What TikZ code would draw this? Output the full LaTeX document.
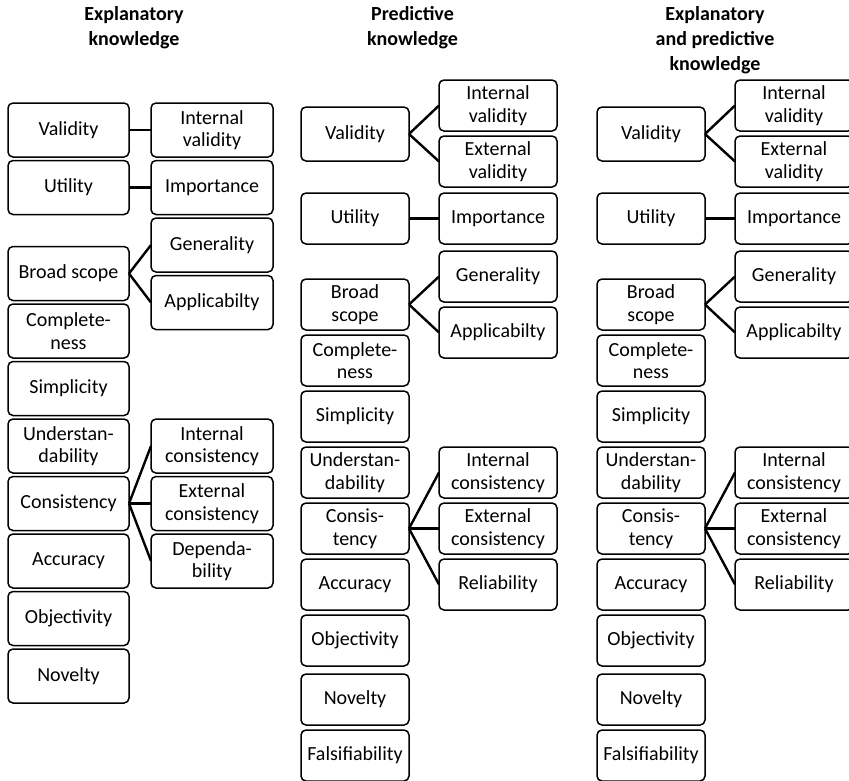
\documentclass[tikz,border=0pt]{standalone}
\usepackage{fontspec}
\setmainfont{Carlito}
\usetikzlibrary{positioning}

\begin{document}
\begin{tikzpicture}[x=1pt,y=-1pt,
   every node/.style={font=\fontsize{20}{22.5}\selectfont},
   box/.style={draw,line width=1.5pt,rounded corners=5pt,align=center,
               inner xsep=2pt,inner ysep=1pt,outer sep=0pt},
   mainA/.style={box,minimum width=121pt,minimum height=54pt},
   subA/.style={box,minimum width=122pt,minimum height=54pt},
   mainB/.style={box,minimum width=108pt,minimum height=51pt},
   subB/.style={box,minimum width=118pt,minimum height=51pt},
   head/.style={align=center,font=\fontsize{20}{25}\selectfont\bfseries},
   link/.style={line width=2.4pt}]
  \useasboundingbox (0,0) rectangle (849,780);

  % explanatory knowledge
  \node[head] (h1) at (134,27.5) {Explanatory\\knowledge};
  \node[mainA] (val1) at (68.5,130) {Validity};
  \node[mainA,below=3.5pt of val1] (util1) {Utility};
  \node[mainA,below=32pt of util1] (bs1) {Broad scope};
  \node[mainA,below=3.5pt of bs1] (comp1) {Complete-\\ness};
  \node[mainA,below=3.5pt of comp1] (simp1) {Simplicity};
  \node[mainA,below=3.5pt of simp1] (und1) {Understan-\\dability};
  \node[mainA,below=3.5pt of und1] (cons1) {Consistency};
  \node[mainA,below=3.5pt of cons1] (acc1) {Accuracy};
  \node[mainA,below=3.5pt of acc1] (obj1) {Objectivity};
  \node[mainA,below=3.5pt of obj1] (nov1) {Novelty};
  \node[subA,right=22pt of val1] (ival1) {Internal\\validity};
  \node[subA,right=22pt of util1] (imp1) {Importance};
  \node[subA,below=3.5pt of imp1] (gen1) {Generality};
  \node[subA,below=3.5pt of gen1] (app1) {Applicabilty};
  \node[subA,right=22pt of und1] (icons1) {Internal\\consistency};
  \node[subA,right=22pt of cons1] (econs1) {External\\consistency};
  \node[subA,right=22pt of acc1] (dep1) {Dependa-\\bility};
  \draw[link] (val1.east) -- (ival1.west);
  \draw[link] (util1.east) -- (imp1.west);
  \draw[link] (bs1.east) -- (gen1.west);
  \draw[link] (bs1.east) -- (app1.west);
  \draw[link] (cons1.east) -- (icons1.west);
  \draw[link] (cons1.east) -- (econs1.west);
  \draw[link] (cons1.east) -- (dep1.west);

  % predictive knowledge
  \node[head] (h2) at (412.5,27.5) {Predictive\\knowledge};
  \node[mainB,minimum height=54pt] (val2) at (355,134) {Validity};
  \node[mainB,below=32pt of val2] (util2) {Utility};
  \node[mainB,below=35pt of util2] (bs2) {Broad\\scope};
  \node[mainB,below=5pt of bs2] (comp2) {Complete-\\ness};
  \node[mainB,below=5pt of comp2] (simp2) {Simplicity};
  \node[mainB,below=5pt of simp2] (und2) {Understan-\\dability};
  \node[mainB,below=5pt of und2] (cons2) {Consis-\\tency};
  \node[mainB,below=5pt of cons2] (acc2) {Accuracy};
  \node[mainB,below=5pt of acc2] (obj2) {Objectivity};
  \node[mainB,below=8pt of obj2] (nov2) {Novelty};
  \node[mainB,below=5pt of nov2] (fals2) {Falsifiability};
  \node[subB,right=30pt of val2,yshift=28.5pt] (ival2) {Internal\\validity};
  \node[subB,below=5pt of ival2] (eval2) {External\\validity};
  \node[subB,right=30pt of util2] (imp2) {Importance};
  \node[subB,right=30pt of bs2,yshift=28pt] (gen2) {Generality};
  \node[subB,below=5pt of gen2] (app2) {Applicabilty};
  \node[subB,right=30pt of cons2] (econs2) {External\\consistency};
  \node[subB,above=5pt of econs2] (icons2) {Internal\\consistency};
  \node[subB,below=5pt of econs2] (rel2) {Reliability};
  \draw[link] (val2.east) -- (ival2.west);
  \draw[link] (val2.east) -- (eval2.west);
  \draw[link] (util2.east) -- (imp2.west);
  \draw[link] (bs2.east) -- (gen2.west);
  \draw[link] (bs2.east) -- (app2.west);
  \draw[link] (cons2.east) -- (icons2.west);
  \draw[link] (cons2.east) -- (econs2.west);
  \draw[link] (cons2.east) -- (rel2.west);

  % explanatory and predictive knowledge
  \node[head] (h3) at (715,40) {Explanatory\\and predictive\\knowledge};
  \node[mainB,minimum height=54pt] (val3) at (651,134) {Validity};
  \node[mainB,below=32pt of val3] (util3) {Utility};
  \node[mainB,below=35pt of util3] (bs3) {Broad\\scope};
  \node[mainB,below=5pt of bs3] (comp3) {Complete-\\ness};
  \node[mainB,below=5pt of comp3] (simp3) {Simplicity};
  \node[mainB,below=5pt of simp3] (und3) {Understan-\\dability};
  \node[mainB,below=5pt of und3] (cons3) {Consis-\\tency};
  \node[mainB,below=5pt of cons3] (acc3) {Accuracy};
  \node[mainB,below=5pt of acc3] (obj3) {Objectivity};
  \node[mainB,below=8pt of obj3] (nov3) {Novelty};
  \node[mainB,below=5pt of nov3] (fals3) {Falsifiability};
  \node[subB,right=30pt of val3,yshift=28.5pt] (ival3) {Internal\\validity};
  \node[subB,below=5pt of ival3] (eval3) {External\\validity};
  \node[subB,right=30pt of util3] (imp3) {Importance};
  \node[subB,right=30pt of bs3,yshift=28pt] (gen3) {Generality};
  \node[subB,below=5pt of gen3] (app3) {Applicabilty};
  \node[subB,right=30pt of cons3] (econs3) {External\\consistency};
  \node[subB,above=5pt of econs3] (icons3) {Internal\\consistency};
  \node[subB,below=5pt of econs3] (rel3) {Reliability};
  \draw[link] (val3.east) -- (ival3.west);
  \draw[link] (val3.east) -- (eval3.west);
  \draw[link] (util3.east) -- (imp3.west);
  \draw[link] (bs3.east) -- (gen3.west);
  \draw[link] (bs3.east) -- (app3.west);
  \draw[link] (cons3.east) -- (icons3.west);
  \draw[link] (cons3.east) -- (econs3.west);
  \draw[link] (cons3.east) -- (rel3.west);
\end{tikzpicture}
\end{document}
